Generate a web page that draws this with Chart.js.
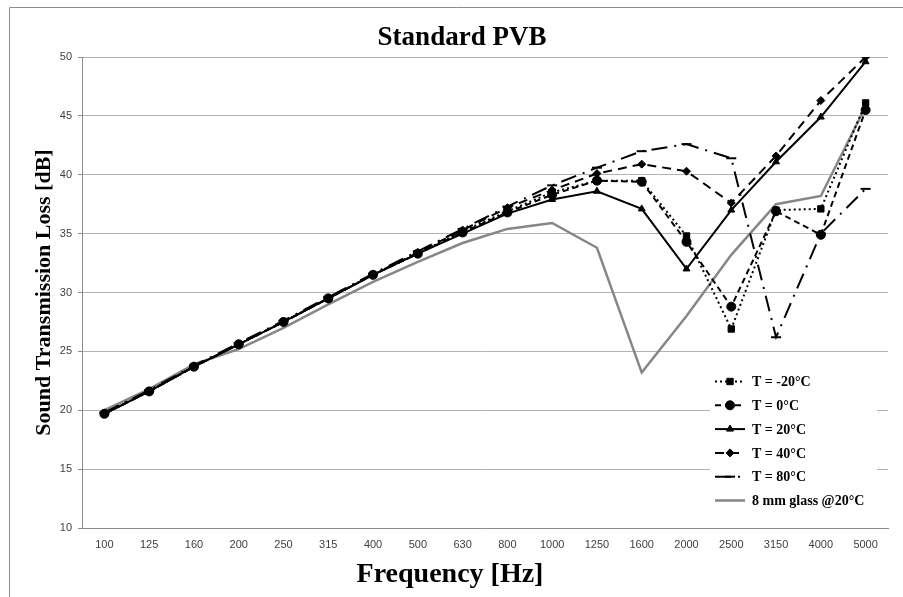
<!DOCTYPE html>
<html>
<head>
<meta charset="utf-8">
<script src="https://cdn.jsdelivr.net/npm/chart.js@4.4.1/dist/chart.umd.min.js"></script>
<style>
  html, body { margin: 0; padding: 0; background: #fff; }
  #wrap { width: 903px; height: 597px; position: relative; }
</style>
</head>
<body>
<div id="wrap"><canvas id="tlChart" width="903" height="597"></canvas></div>
<script>
// frequency bands [Hz]
const freqs = ['100', '125', '160', '200', '250', '315', '400', '500', '630', '800',
  '1000', '1250', '1600', '2000', '2500', '3150', '4000', '5000'];

// sound transmission loss [dB]
const tMinus20 = [19.7, 21.6, 23.7, 25.6, 27.5, 29.5, 31.5, 33.3, 35.2, 36.9, 38.5, 39.5, 39.5, 34.8, 26.9, 37.0, 37.1, 46.1];
const t0       = [19.7, 21.6, 23.7, 25.6, 27.5, 29.5, 31.5, 33.3, 35.1, 36.8, 38.3, 39.5, 39.4, 34.3, 28.8, 36.9, 34.9, 45.5];
const t20      = [19.7, 21.6, 23.7, 25.6, 27.5, 29.5, 31.5, 33.3, 35.0, 36.7, 37.9, 38.6, 37.1, 32.0, 37.0, 41.1, 44.9, 49.6];
const t40      = [19.7, 21.6, 23.7, 25.6, 27.5, 29.5, 31.5, 33.4, 35.3, 37.2, 38.7, 40.1, 40.9, 40.3, 37.6, 41.6, 46.3, 50.0];
const t80      = [19.8, 21.7, 23.8, 25.7, 27.6, 29.6, 31.6, 33.5, 35.4, 37.3, 39.1, 40.6, 42.0, 42.6, 41.4, 26.2, 35.0, 38.8];
const glass8   = [20.0, 21.8, 23.9, 25.2, 27.0, 29.0, 30.9, 32.6, 34.2, 35.4, 35.9, 33.8, 23.2, 28.0, 33.2, 37.5, 38.2, 45.8];

const seriesNames = ['T = -20°C', 'T = 0°C', 'T = 20°C', 'T = 40°C', 'T = 80°C', '8 mm glass @20°C'];
const chartTitle = 'Standard PVB';
const xTitle = 'Frequency [Hz]';
const yTitle = 'Sound Transmission Loss [dB]';

const serif = "'Liberation Serif', 'Times New Roman', serif";
const tickFont = { family: "'Liberation Sans Narrow', 'Liberation Sans', Arial, sans-serif", size: 11 };

// outer frame like the spreadsheet chart border
const framePlugin = {
  id: 'frame',
  beforeDraw(chart) {
    const ctx = chart.ctx;
    ctx.save();
    ctx.fillStyle = '#fff';
    ctx.fillRect(0, 0, chart.width, chart.height);
    ctx.strokeStyle = '#8c8c8c';
    ctx.lineWidth = 1;
    ctx.beginPath();
    ctx.moveTo(9.5, chart.height);
    ctx.lineTo(9.5, 7.5);
    ctx.lineTo(chart.width, 7.5);
    ctx.stroke();
    ctx.restore();
  },
  // titles are placed where the original has them (not centred on the plot)
  afterDraw(chart) {
    const ctx = chart.ctx;
    ctx.save();
    ctx.fillStyle = '#000';
    ctx.textAlign = 'center';
    ctx.textBaseline = 'alphabetic';
    ctx.font = 'bold 27px ' + serif;
    ctx.fillText(chartTitle, 462, 45);
    ctx.font = 'bold 28px ' + serif;
    ctx.fillText(xTitle, 450, 582);
    ctx.restore();
  }
};

// legend sits inside the plot, lower right, on a white box
const insideLegend = {
  id: 'insideLegend',
  afterDatasetsDraw(chart) {
    const ctx = chart.ctx;
    const area = chart.chartArea;
    const boxX = area.right - 178, boxY = 368, boxW = 167, boxH = 146;
    ctx.save();
    ctx.fillStyle = '#fff';
    ctx.fillRect(boxX, boxY, boxW, boxH);
    chart.data.datasets.forEach((ds, i) => {
      const y = 381.5 + i * 23.8;
      const x0 = boxX + 5, x1 = boxX + 35;
      ctx.strokeStyle = ds.borderColor;
      ctx.lineWidth = ds.borderWidth;
      ctx.setLineDash(ds.borderDash || []);
      ctx.beginPath();
      ctx.moveTo(x0, y);
      ctx.lineTo(x1, y);
      ctx.stroke();
      ctx.setLineDash([]);
      if (ds.pointRadius > 0) {
        ctx.fillStyle = ds.pointBackgroundColor;
        ctx.strokeStyle = ds.pointBorderColor;
        ctx.lineWidth = ds.pointBorderWidth;
        Chart.helpers.drawPoint(ctx, { pointStyle: ds.pointStyle, radius: ds.pointRadius, rotation: 0, borderWidth: ds.pointBorderWidth }, (x0 + x1) / 2, y);
      }
      ctx.fillStyle = '#000';
      ctx.font = 'bold 14px ' + serif;
      ctx.textBaseline = 'middle';
      ctx.textAlign = 'left';
      ctx.fillText(ds.label, x1 + 7, y + 1);
    });
    ctx.restore();
  }
};

function lineSet(label, data, opts) {
  return Object.assign({
    label,
    data,
    borderColor: '#000',
    borderWidth: 2,
    pointBackgroundColor: '#000',
    pointBorderColor: '#000',
    pointBorderWidth: 1,
    tension: 0,
    fill: false
  }, opts);
}

new Chart(document.getElementById('tlChart'), {
  type: 'line',
  data: {
    labels: freqs,
    datasets: [
      lineSet(seriesNames[0], tMinus20, { borderDash: [2, 3], pointStyle: 'rect', pointRadius: 4.5 }),
      lineSet(seriesNames[1], t0, { borderDash: [6, 4], pointStyle: 'circle', pointRadius: 4.5 }),
      lineSet(seriesNames[2], t20, { pointStyle: 'triangle', pointRadius: 4 }),
      lineSet(seriesNames[3], t40, { borderDash: [9, 6], pointStyle: 'rectRot', pointRadius: 4 }),
      lineSet(seriesNames[4], t80, { borderDash: [16, 7, 2, 7], pointStyle: 'line', pointRadius: 5, pointBorderWidth: 2 }),
      lineSet(seriesNames[5], glass8, { borderColor: '#868686', borderWidth: 2.5, pointRadius: 0 })
    ]
  },
  options: {
    responsive: false,
    animation: false,
    layout: { padding: { left: 0, right: 15, top: 57, bottom: 0 } },
    plugins: {
      legend: { display: false },
      tooltip: { enabled: false },
      title: { display: false }
    },
    scales: {
      x: {
        offset: true,
        grid: { display: false, drawTicks: false },
        border: { display: true, color: '#8c8c8c', width: 1 },
        ticks: { color: '#404040', font: tickFont, padding: 10, maxRotation: 0, autoSkip: false },
        afterFit: s => { s.height = 69; }
      },
      y: {
        min: 10,
        max: 50,
        ticks: { stepSize: 5, color: '#404040', font: tickFont, padding: 6 },
        grid: { color: '#b3b3b3', lineWidth: 1, drawTicks: true, tickLength: 4, tickColor: '#8c8c8c' },
        border: { display: true, color: '#8c8c8c', width: 1 },
        title: {
          display: true,
          text: yTitle,
          color: '#000',
          font: { family: serif, size: 22, weight: 'bold' },
          padding: { top: 31, bottom: 0 }
        },
        afterFit: s => { s.width = 82; }
      }
    }
  },
  plugins: [framePlugin, insideLegend]
});
</script>
</body>
</html>
